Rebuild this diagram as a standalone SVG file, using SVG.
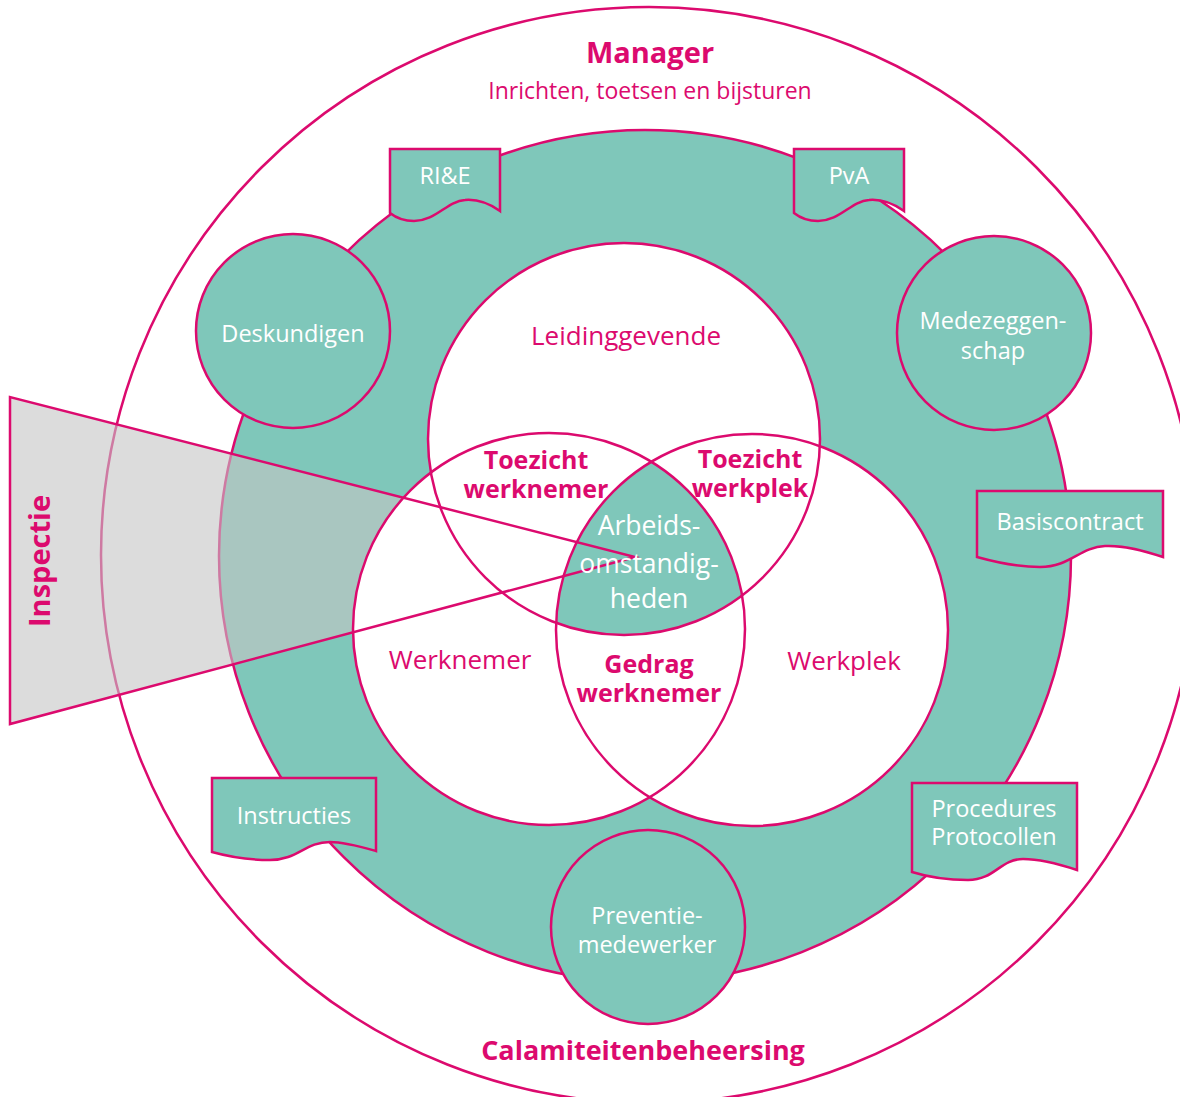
<svg xmlns="http://www.w3.org/2000/svg" width="1180" height="1097" viewBox="0 0 1180 1097">
<style>
.pk{stroke:#dc0a6e;stroke-width:2.5}
.teal{fill:#7fc7ba}
.t{font-family:"Open Sans","Noto Sans",sans-serif;text-anchor:middle}
.w{fill:#ffffff;font-size:23.5px}
.p{fill:#dc0a6e;font-size:26px}
.pb{fill:#dc0a6e;font-size:25px;font-weight:bold}
</style>
<defs>
<clipPath id="cW"><circle cx="549" cy="629" r="196"/></clipPath>
<clipPath id="cP"><circle cx="752" cy="630" r="196"/></clipPath>
</defs>
<rect width="1180" height="1097" fill="#ffffff"/>
<g id="outer">
<circle cx="649" cy="555" r="548" fill="#ffffff" class="pk"/>
</g>
<g id="ring">
<circle cx="645" cy="556" r="426" class="teal pk"/>
</g>
<g id="inspectie-fill">
<polygon points="10,397 10,724 635,557" fill="#c4c4c4" fill-opacity="0.6"/>
</g>
<g id="venn">
<circle cx="624" cy="439" r="196" fill="#ffffff"/>
<circle cx="549" cy="629" r="196" fill="#ffffff"/>
<circle cx="752" cy="630" r="196" fill="#ffffff"/>
<g clip-path="url(#cW)"><g clip-path="url(#cP)"><circle cx="624" cy="439" r="196" class="teal"/></g></g>
<circle cx="624" cy="439" r="196" fill="none" class="pk"/>
<circle cx="549" cy="629" r="196" fill="none" class="pk"/>
<circle cx="752" cy="630" r="196" fill="none" class="pk"/>
</g>
<g id="connectors">
<polygon points="10,397 10,724 635,557" fill="none" class="pk"/>
</g>
<g id="deskundigen">
<circle cx="293" cy="331" r="97" class="teal pk"/>
<text x="293" y="342" class="t w">Deskundigen</text>
</g>
<g id="medezeggenschap">
<circle cx="994" cy="333" r="97" class="teal pk"/>
<text x="993" y="329" class="t w">Medezeggen-</text>
<text x="993" y="359" class="t w">schap</text>
</g>
<g id="preventie">
<circle cx="648" cy="927" r="97" class="teal pk"/>
<text x="647" y="924" class="t w">Preventie-</text>
<text x="647" y="953" class="t w">medewerker</text>
</g>
<g id="rie">
<path d="M390,149 H500 V211 C490,204 477,199 465,200 C447,201 436,221 414,221 C403,221 395,217 390,213 Z" class="teal pk"/>
<text x="445" y="184" class="t w">RI&amp;E</text>
</g>
<g id="pva">
<path d="M794,149 H904 V211 C894,204 881,199 869,200 C851,201 840,221 818,221 C807,221 799,217 794,213 Z" class="teal pk"/>
<text x="849" y="184" class="t w">PvA</text>
</g>
<g id="basiscontract">
<path d="M977,491 H1163 V557 C1145,551 1125,545 1105,546 C1080,547 1070,567 1040,567 C1015,567 995,562 977,557 Z" class="teal pk"/>
<text x="1070" y="530" class="t w">Basiscontract</text>
</g>
<g id="instructies">
<path d="M212,778 H376 V851 C362,847 345,842 330,842 C305,842 298,860 270,860 C250,860 230,857 212,852 Z" class="teal pk"/>
<text x="294" y="824" class="t w">Instructies</text>
</g>
<g id="procedures">
<path d="M912,783 H1077 V870 C1062,865 1042,859 1023,859 C1000,859 995,880 968,880 C945,880 928,877 912,872 Z" class="teal pk"/>
<text x="994" y="817" class="t w">Procedures</text>
<text x="994" y="845" class="t w">Protocollen</text>
</g>
<g id="labels">
<text x="650" y="63" class="t pb" style="font-size:29px">Manager</text>
<text x="650" y="99" class="t p" style="font-size:23px">Inrichten, toetsen en bijsturen</text>
<text x="626" y="345" class="t p">Leidinggevende</text>
<text x="536" y="469" class="t pb">Toezicht</text>
<text x="536" y="498" class="t pb">werknemer</text>
<text x="750" y="468" class="t pb">Toezicht</text>
<text x="750" y="497" class="t pb">werkplek</text>
<text x="649" y="535" class="t w" style="font-size:26.5px">Arbeids-</text>
<text x="649" y="573" class="t w" style="font-size:26.5px">omstandig-</text>
<text x="649" y="608" class="t w" style="font-size:26.5px">heden</text>
<text x="460" y="669" class="t p">Werknemer</text>
<text x="844" y="670" class="t p">Werkplek</text>
<text x="649" y="673" class="t pb">Gedrag</text>
<text x="649" y="702" class="t pb">werknemer</text>
<text x="643" y="1060" class="t pb" style="font-size:27px">Calamiteitenbeheersing</text>
<text transform="translate(50,561) rotate(-90)" class="t pb" style="font-size:29px">Inspectie</text>
</g>
</svg>
